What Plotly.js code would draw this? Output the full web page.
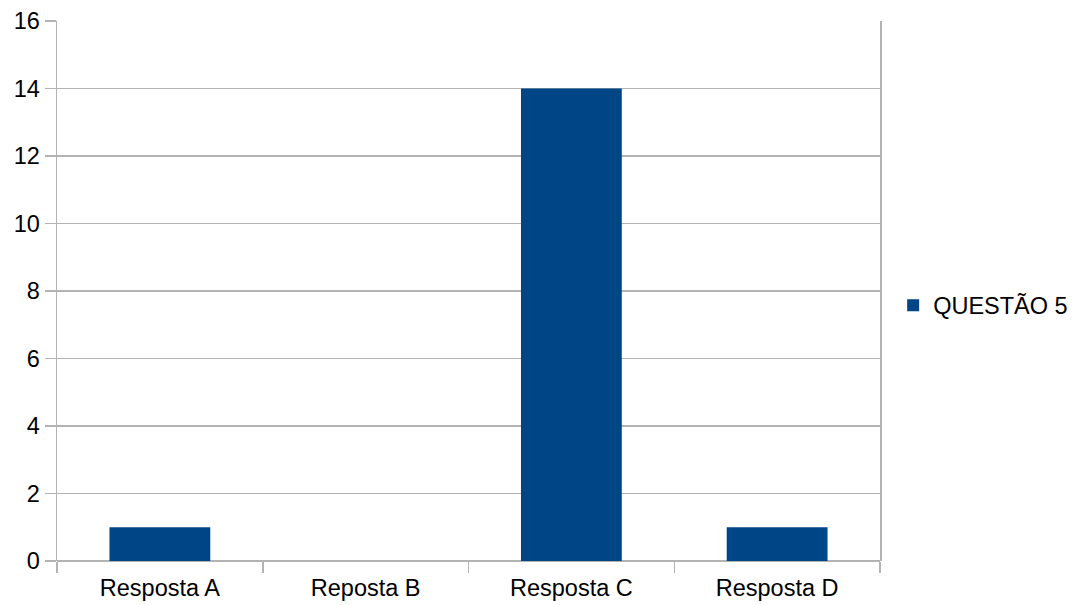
<!DOCTYPE html>
<html>
<head>
<meta charset="utf-8">
<script src="https://cdn.plot.ly/plotly-3.0.1.min.js"></script>
<style>
  html, body { margin: 0; padding: 0; background: #ffffff; }
  #chart { width: 1080px; height: 605px; }
</style>
</head>
<body>
<div id="chart"></div>
<script>
// Answers to question 5
const categories = ["Resposta A", "Reposta B", "Resposta C", "Resposta D"];
const counts = [1, 0, 14, 1];
const seriesName = "QUESTÃO 5";
const yTicks = [0, 2, 4, 6, 8, 10, 12, 14, 16];

const font = { family: "Liberation Sans, Arial, sans-serif", size: 23.5, color: "#000000" };

const trace = {
  type: "bar",
  x: categories,
  y: counts,
  name: seriesName,
  showlegend: true,
  marker: { color: "#004586", line: { width: 0 } },
  hoverinfo: "x+y"
};

const layout = {
  width: 1080,
  height: 605,
  margin: { l: 57, r: 200, t: 21, b: 44, pad: 0, autoexpand: false },
  paper_bgcolor: "#ffffff",
  plot_bgcolor: "#ffffff",
  font: font,
  bargap: 0.51,
  showlegend: true,
  legend: {
    xref: "container", yref: "container",
    x: 0.827, xanchor: "left",
    y: 0.495, yanchor: "middle",
    font: font,
    bgcolor: "rgba(0,0,0,0)",
    itemwidth: 30
  },
  xaxis: {
    type: "category",
    tickson: "boundaries",
    ticks: "outside",
    ticklen: 11,
    tickwidth: 1.5,
    tickcolor: "#b3b3b3",
    ticklabelstandoff: 10,
    showgrid: false,
    showline: false,
    zeroline: false,
    automargin: false,
    tickfont: font,
    fixedrange: true
  },
  yaxis: {
    range: [0, 16],
    tickvals: yTicks,
    ticktext: yTicks.map(String),
    ticks: "outside",
    ticklen: 11,
    tickwidth: 1.5,
    tickcolor: "#b3b3b3",
    showgrid: true,
    gridcolor: "#b3b3b3",
    gridwidth: 1.5,
    zeroline: true,
    zerolinecolor: "#b3b3b3",
    zerolinewidth: 1.5,
    showline: true,
    linecolor: "#b3b3b3",
    linewidth: 1.5,
    mirror: true,
    automargin: false,
    tickfont: font,
    fixedrange: true
  }
};

Plotly.newPlot("chart", [trace], layout, { displayModeBar: false, staticPlot: true });
</script>
</body>
</html>
